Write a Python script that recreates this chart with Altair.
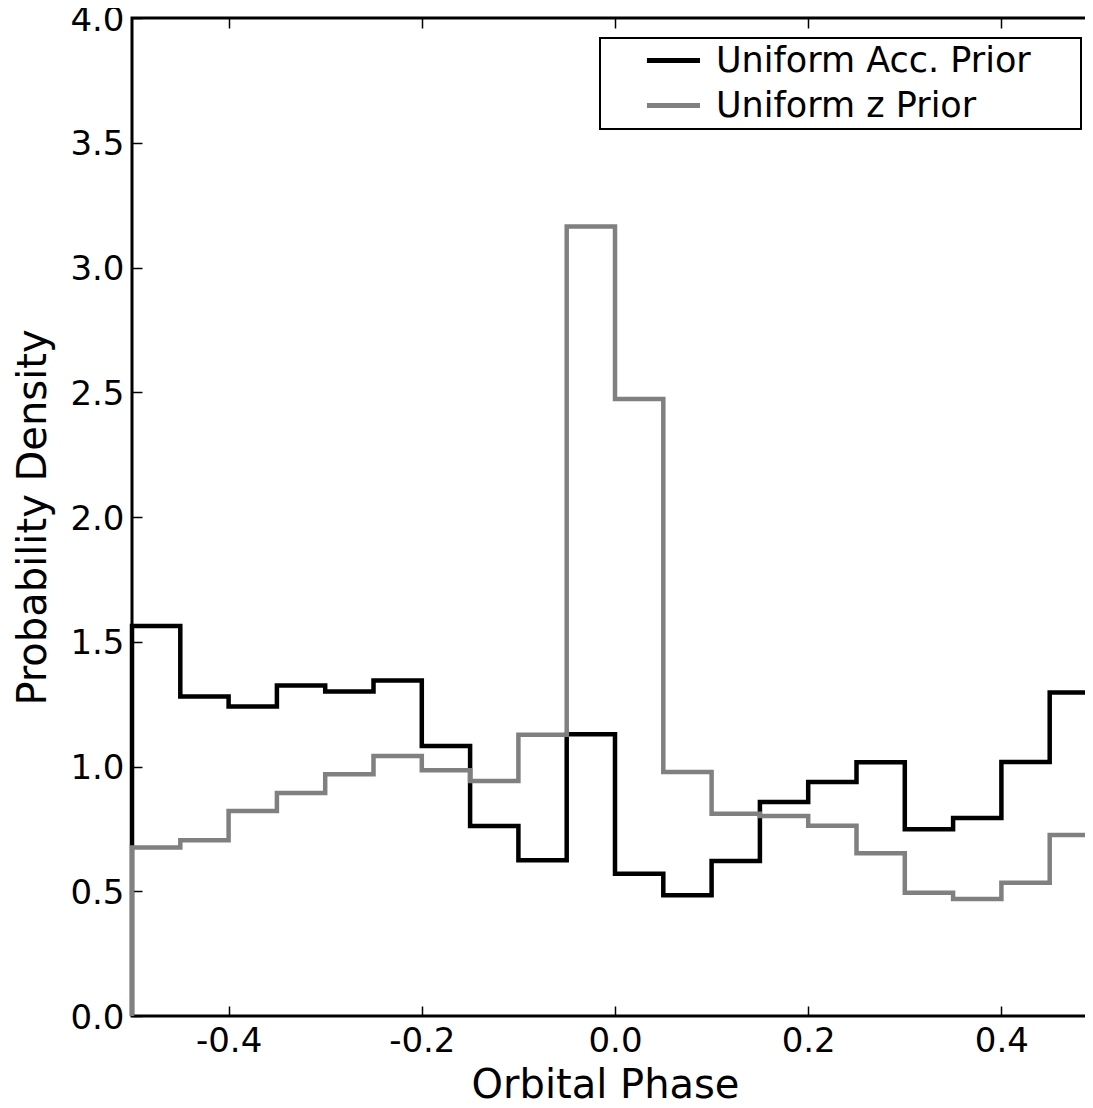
import altair as alt
import pandas as pd

# Bin edges of the orbital-phase histograms
edges = [-0.5, -0.45, -0.4, -0.35, -0.3, -0.25, -0.2, -0.15, -0.1, -0.05, 0.0,
         0.05, 0.1, 0.15, 0.2, 0.25, 0.3, 0.35, 0.4, 0.45, 0.5]

# Probability density per bin
acc_prior = [1.563, 1.281, 1.240, 1.325, 1.301, 1.345, 1.082, 0.762, 0.624, 1.129,
             0.570, 0.484, 0.621, 0.858, 0.938, 1.017, 0.749, 0.794, 1.018, 1.297]
z_prior = [0.675, 0.704, 0.822, 0.894, 0.969, 1.042, 0.985, 0.942, 1.127, 3.164,
           2.473, 0.978, 0.811, 0.802, 0.763, 0.652, 0.494, 0.469, 0.534, 0.725]

series_names = ["Uniform Acc. Prior", "Uniform z Prior"]
series_colors = ["#000000", "#808080"]
x_ticks = [-0.4, -0.2, 0.0, 0.2, 0.4]
y_ticks = [0.0, 0.5, 1.0, 1.5, 2.0, 2.5, 3.0, 3.5, 4.0]


def step_rows(name, vals):
    rows = [(edges[0], 0.0)]
    rows += [(edges[i], v) for i, v in enumerate(vals)]
    rows += [(edges[-1], vals[-1]), (edges[-1], 0.0)]
    return [{"phase": x, "density": y, "prior": name, "idx": k}
            for k, (x, y) in enumerate(rows)]


df = pd.DataFrame(step_rows(series_names[0], acc_prior) +
                  step_rows(series_names[1], z_prior))

FONT = "DejaVu Sans"
W, H = 966, 998

color_scale = alt.Scale(domain=series_names, range=series_colors)
# symbol: a short horizontal line; the trailing move-to only widens the legend frame
legend = alt.Legend(
    orient="none", legendX=468, legendY=20, title=None,
    symbolType="M1.81,0L5.74,0M32.8,0", symbolSize=729, symbolStrokeWidth=5,
    labelFontSize=35, labelFont=FONT, labelColor="black", labelOffset=76,
    labelLimit=0, rowPadding=9, padding=5, strokeColor="black",
    fillColor="white",
)

x_scale = alt.Scale(domain=[-0.5, 0.5], nice=False, zero=False)
y_scale = alt.Scale(domain=[0, 4], nice=False)

minus_fix = "replace(format(datum.value, '.1f'), '\u2212', '-')"

bottom_axis = alt.Axis(
    orient="bottom", values=x_ticks, labelExpr=minus_fix, offset=-10,
    tickSize=10, domain=False, grid=False, labelPadding=8,
    title="Orbital Phase", titlePadding=7, titleX=473, titleAlign="center",
)
left_axis = alt.Axis(
    orient="left", values=y_ticks, labelExpr=minus_fix, offset=-10,
    tickSize=10, domain=False, grid=False, labelPadding=8, labelOffset=2,
    title="Probability Density", titlePadding=16,
)
top_axis = alt.Axis(orient="top", values=x_ticks, offset=-10, tickSize=10,
                    domain=False, grid=False, labels=False, title=None)
right_axis = alt.Axis(orient="right", values=y_ticks, offset=-10, tickSize=10,
                      domain=False, grid=False, labels=False, title=None)

black = alt.Chart(df).transform_filter(
    alt.datum.prior == series_names[0]
).mark_line(interpolate="step-after", strokeWidth=4.5).encode(
    x=alt.X("phase:Q", scale=x_scale, axis=bottom_axis),
    y=alt.Y("density:Q", scale=y_scale, axis=left_axis),
    color=alt.Color("prior:N", scale=color_scale, legend=legend),
    order=alt.Order("idx:Q"),
)

gray = alt.Chart(df).transform_filter(
    alt.datum.prior == series_names[1]
).mark_line(interpolate="step-after", strokeWidth=4.5).encode(
    x=alt.X("phase:Q", scale=x_scale, axis=top_axis),
    y=alt.Y("density:Q", scale=y_scale, axis=right_axis),
    color=alt.Color("prior:N", scale=color_scale, legend=legend),
    order=alt.Order("idx:Q"),
)

chart = alt.layer(black, gray).resolve_scale(
    x="independent", y="independent"
).properties(
    width=W, height=H,
    autosize=alt.AutoSizeParams(type="none"),
    padding={"left": 124, "top": 10, "right": -13, "bottom": 84},
).configure_view(
    stroke="black", strokeWidth=3
).configure_axis(
    labelFont=FONT, labelFontSize=34, labelColor="black",
    titleFont=FONT, titleFontSize=40, titleColor="black", titleFontWeight="normal",
    tickColor="black", tickWidth=1.5,
).configure_legend(
    strokeWidth=2
)

chart.save("out.html", embed_options={"renderer": "svg", "actions": False})
